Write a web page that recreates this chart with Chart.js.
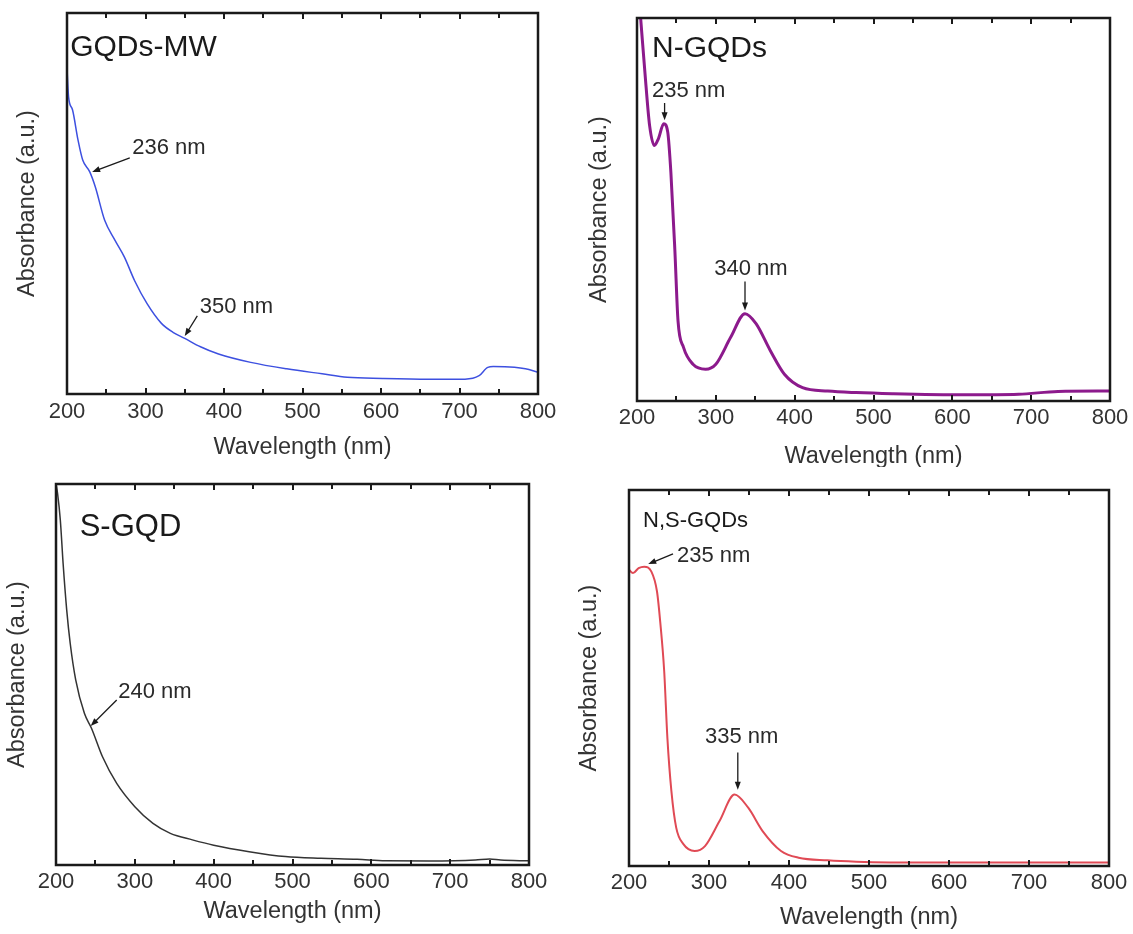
<!DOCTYPE html>
<html lang="en">
<head>
<meta charset="UTF-8">
<title>UV-vis absorbance of GQDs</title>
<script src="https://cdn.jsdelivr.net/npm/chart.js@4.4.0/dist/chart.umd.min.js"></script>
<style>
  body { margin: 0; background: #fff; }
  .panel { position: absolute; }
</style>
</head>
<body>
<div class="panel" style="left:0;top:0;width:566px;height:467px"><canvas id="c1"></canvas></div>
<div class="panel" style="left:570px;top:0;width:563px;height:467px"><canvas id="c2"></canvas></div>
<div class="panel" style="left:0;top:470px;width:566px;height:464px"><canvas id="c3"></canvas></div>
<div class="panel" style="left:570px;top:470px;width:563px;height:464px"><canvas id="c4"></canvas></div>
<script>
// wavelength (nm) and absorbance (a.u., 0 = bottom of frame, 100 = top)
const mwNm  = [200, 202, 207, 214, 220, 229, 236, 248, 261, 273, 286, 302, 320, 335, 350, 370, 393, 434, 480, 525, 557, 602, 661, 707, 725, 736, 743, 770, 784, 800];
const mwAbs = [85.5, 78, 74.6, 66.7, 61.4, 58.3, 54.4, 45.6, 40.4, 36, 29.8, 23.7, 18.6, 16.2, 14.6, 12.4, 10.5, 8.3, 6.6, 5.3, 4.4, 4.1, 3.9, 3.9, 4.8, 7.0, 7.2, 7.0, 6.6, 5.7];

const nNm  = [200, 204.6, 211, 216, 222, 227, 234, 239, 243, 248, 252, 259, 271, 287, 300, 319, 337, 351, 369, 387, 410, 442, 478, 524, 615, 684, 734, 800];
const nAbs = [112, 100, 83.3, 71.9, 66.7, 68.4, 72.4, 70.2, 59.6, 39.5, 21, 14, 9.6, 8.3, 9.6, 16.7, 22.8, 20.2, 13.2, 7.0, 3.5, 2.6, 2.2, 1.9, 1.6, 1.75, 2.5, 2.6];

const sNm  = [200, 202, 205.5, 209, 213.6, 218, 225, 236, 245, 259, 277, 300, 323, 345, 373, 400, 445, 491, 536, 582, 618, 673, 732, 750, 764, 800];
const sAbs = [100, 97.5, 90.5, 79.2, 66.9, 58.2, 48.6, 39.8, 35.9, 28.4, 21.4, 15.3, 10.9, 8.3, 6.6, 5.2, 3.5, 2.2, 1.75, 1.5, 1.1, 1.05, 1.3, 1.6, 1.3, 1.1];

const nsNm  = [200, 205, 212, 219, 228, 235, 239, 244, 248, 253, 259, 268, 282, 295, 313, 332, 349, 367, 390, 412, 448, 484, 574, 800];
const nsAbs = [78.8, 77.9, 79.2, 79.6, 78.3, 73, 65, 51.8, 34, 19.9, 10.2, 5.8, 4.0, 5.3, 11.9, 19, 15.5, 9.3, 4.0, 2.2, 1.5, 1.15, 0.9, 0.9];

const xTicks = [200, 300, 400, 500, 600, 700, 800];

const FONT = "'Liberation Sans', Arial, sans-serif";
const TITLE_SIZE = 23.5;
const LH = TITLE_SIZE * 1.2;

const frame = {
  id: 'frame',
  afterDraw(chart, args, opts) {
    const { ctx, chartArea: a, scales: { x, y } } = chart;
    ctx.save();
    ctx.strokeStyle = '#1a1a1a';
    ctx.lineWidth = 2;
    // inward ticks on top and bottom, every 50 nm
    ctx.beginPath();
    for (let v = 250; v < 800; v += 50) {
      const px = Math.round(x.getPixelForValue(v));
      const len = v % 100 === 0 ? 6 : 5;
      ctx.moveTo(px, a.bottom); ctx.lineTo(px, a.bottom - len);
      ctx.moveTo(px, a.top); ctx.lineTo(px, a.top + len);
    }
    ctx.stroke();
    ctx.lineWidth = 2.5;
    ctx.strokeRect(a.left, a.top, a.right - a.left, a.bottom - a.top);

    // panel name
    ctx.fillStyle = '#1a1a1a';
    ctx.textBaseline = 'middle';
    ctx.textAlign = 'left';
    ctx.font = opts.nameSize + 'px ' + FONT;
    ctx.fillText(opts.name, x.getPixelForValue(opts.namePos[0]), y.getPixelForValue(opts.namePos[1]));

    // peak notes
    ctx.font = '22px ' + FONT;
    opts.notes.forEach(n => {
      ctx.fillStyle = '#2a2a2a';
      ctx.fillText(n.text, x.getPixelForValue(n.at[0]), y.getPixelForValue(n.at[1]));
      const x0 = x.getPixelForValue(n.from[0]), y0 = y.getPixelForValue(n.from[1]);
      const x1 = x.getPixelForValue(n.to[0]), y1 = y.getPixelForValue(n.to[1]);
      const ang = Math.atan2(y1 - y0, x1 - x0);
      ctx.strokeStyle = '#1a1a1a';
      ctx.lineWidth = 1.3;
      ctx.beginPath();
      ctx.moveTo(x0, y0);
      ctx.lineTo(x1 - 6 * Math.cos(ang), y1 - 6 * Math.sin(ang));
      ctx.stroke();
      ctx.fillStyle = '#1a1a1a';
      ctx.beginPath();
      ctx.moveTo(x1, y1);
      ctx.lineTo(x1 - 8 * Math.cos(ang) + 3 * Math.sin(ang), y1 - 8 * Math.sin(ang) - 3 * Math.cos(ang));
      ctx.lineTo(x1 - 8 * Math.cos(ang) - 3 * Math.sin(ang), y1 - 8 * Math.sin(ang) + 3 * Math.cos(ang));
      ctx.closePath();
      ctx.fill();
    });
    ctx.restore();
  }
};

function makePanel(id, nm, abs, color, width, box, panel) {
  const canvas = document.getElementById(id);
  const w = canvas.parentNode.clientWidth, h = canvas.parentNode.clientHeight;
  new Chart(canvas, {
    type: 'line',
    data: {
      datasets: [{
        data: nm.map((v, i) => ({ x: v, y: abs[i] })),
        borderColor: color,
        borderWidth: width,
        pointRadius: 0,
        cubicInterpolationMode: 'monotone',
        fill: false
      }]
    },
    options: {
      responsive: true,
      maintainAspectRatio: false,
      animation: false,
      events: [],
      layout: { padding: { top: box.top, right: w - box.right, left: 0, bottom: 0 } },
      plugins: {
        legend: { display: false },
        tooltip: { enabled: false },
        frame: panel
      },
      scales: {
        x: {
          type: 'linear', min: 200, max: 800,
          grid: { display: false, drawTicks: false },
          border: { display: false },
          afterBuildTicks: s => { s.ticks = xTicks.map(v => ({ value: v })); },
          afterFit: s => { s.height = h - box.bottom; },
          ticks: { padding: box.tickPad, color: '#333', font: { family: FONT, size: 22 } },
          title: {
            display: true, text: 'Wavelength (nm)', color: '#333',
            font: { family: FONT, size: TITLE_SIZE },
            padding: { top: 0, bottom: h - box.xTitle - LH / 2 }
          }
        },
        y: {
          min: 0, max: 100,
          grid: { display: false, drawTicks: false },
          border: { display: false },
          ticks: { display: false },
          afterFit: s => { s.width = box.left; },
          title: {
            display: true, text: 'Absorbance (a.u.)', color: '#333',
            font: { family: FONT, size: TITLE_SIZE },
            padding: { top: box.yTitle - LH / 2, bottom: 0 }
          }
        }
      }
    },
    plugins: [frame]
  });
}

makePanel('c1', mwNm, mwAbs, '#3d50e0', 1.5,
  { left: 67, top: 13, right: 538, bottom: 394, tickPad: 5, xTitle: 448, yTitle: 28 },
  { name: 'GQDs-MW', nameSize: 30, namePos: [204, 91],
    notes: [
      { text: '236 nm', at: [283, 64.6], from: [280, 62], to: [232, 58.3] },
      { text: '350 nm', at: [369, 22.8], from: [366, 20.5], to: [350, 15.2] }
    ] });

makePanel('c2', nNm, nAbs, '#8c1a8c', 3,
  { left: 67, top: 18, right: 540, bottom: 401, tickPad: 4, xTitle: 457, yTitle: 30 },
  { name: 'N-GQDs', nameSize: 30, namePos: [219, 92],
    notes: [
      { text: '235 nm', at: [219, 81], from: [235, 77.8], to: [235, 73.3] },
      { text: '340 nm', at: [298, 34.5], from: [337, 31.2], to: [337, 23.6] }
    ] });

makePanel('c3', sNm, sAbs, '#333333', 1.5,
  { left: 56, top: 14, right: 529, bottom: 395, tickPad: 4, xTitle: 442, yTitle: 18 },
  { name: 'S-GQD', nameSize: 31, namePos: [230, 88.7],
    notes: [
      { text: '240 nm', at: [279, 45.4], from: [277, 43.3], to: [244, 36.5] }
    ] });

makePanel('c4', nsNm, nsAbs, '#e04a55', 2,
  { left: 59, top: 20, right: 539, bottom: 396, tickPad: 4, xTitle: 448, yTitle: 20 },
  { name: 'N,S-GQDs', nameSize: 22, namePos: [217.5, 91.8],
    notes: [
      { text: '235 nm', at: [260, 82.4], from: [255, 83], to: [224, 80.3] },
      { text: '335 nm', at: [295, 34.3], from: [336, 30.2], to: [336, 20.3] }
    ] });
</script>
</body>
</html>
